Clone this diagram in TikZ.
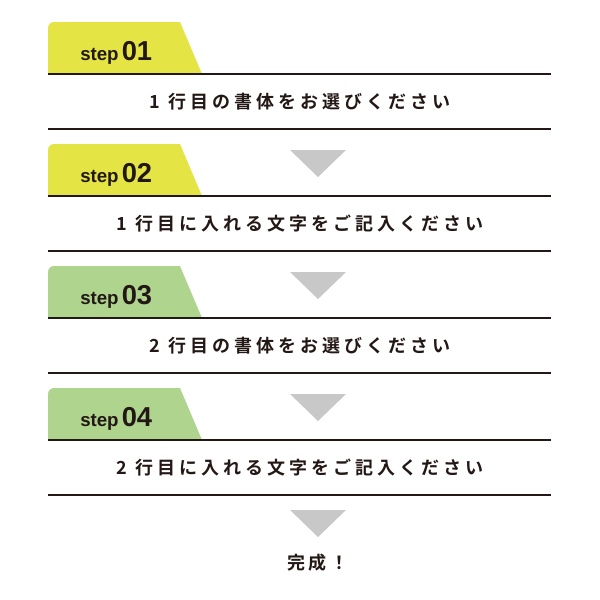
\documentclass[tikz,border=0pt]{standalone}
\usepackage{fontspec}
\setmainfont{Liberation Sans}
\newfontfamily\jp{Noto Sans CJK JP Bold}[LetterSpace=22]
\definecolor{tabY}{HTML}{E4E545}
\definecolor{tabG}{HTML}{AFD48E}
\definecolor{txt}{HTML}{231815}
\definecolor{arr}{HTML}{C8C8C8}
\begin{document}
\begin{tikzpicture}[x=0.75pt,y=-0.75pt,
  rule/.style={draw=txt,line width=0.9pt},
  jtxt/.style={text=txt,font=\jp\fontsize{13.5}{16}\selectfont,inner sep=0pt},
  steplbl/.style={text=txt,anchor=base west,inner sep=0pt},
  tri/.style={fill=arr,draw=none}]
\useasboundingbox (0,0) rectangle (600,600);
\fill[white] (0,0) rectangle (600,600);
\foreach \i/\c/\t/\n in {0/tabY/{1 行目の書体をお選びください}/01,1/tabY/{1 行目に入れる文字をご記入ください}/02,2/tabG/{2 行目の書体をお選びください}/03,3/tabG/{2 行目に入れる文字をご記入ください}/04}{
  \begin{scope}[yshift={-\i*122*0.75pt}]
  \fill[\c,rounded corners=4.5pt] (48,74) [sharp corners]-- (48,60) [rounded corners=4.5pt]-- (48,22) [sharp corners]-- (180,22) -- (202,74) -- cycle;
  \node[steplbl] (s\n) at (80,60) {\bfseries\fontsize{14}{16}\selectfont step\,\fontsize{20.5}{22}\selectfont \n};
  \coordinate (l\n a) at (48,74); \coordinate (l\n b) at (551,74);
  \coordinate (m\n a) at (48,129); \coordinate (m\n b) at (551,129);
  \draw[rule] (l\n a) -- (l\n b);
  \draw[rule] (m\n a) -- (m\n b);
  \node[jtxt] (t\n) at (300,101.5) {\t};
  \end{scope}}
\foreach \y in {150,272,394,510}{
  \fill[tri] (290,\y) -- (346,\y) -- (318,\y+27) -- cycle;}
\node[jtxt] (done) at (318,563) {完成！};
\end{tikzpicture}
\end{document}
